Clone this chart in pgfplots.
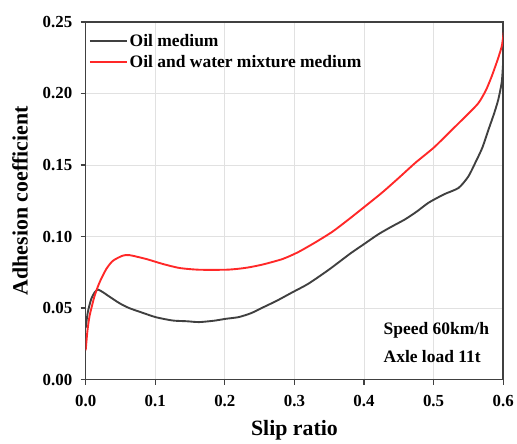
\documentclass[border=0pt]{standalone}
\usepackage{fontspec}
\setmainfont{Liberation Serif}
\usepackage{pgfplots}
\pgfplotsset{compat=1.18}
\definecolor{oilgray}{RGB}{64,64,64}
\definecolor{oilred}{RGB}{255,40,40}
\definecolor{gridgray}{RGB}{225,225,225}
\begin{document}
\begin{tikzpicture}
\begin{axis}[
  scale only axis,
  width=419bp, height=359bp,
  xmin=0, xmax=0.6, ymin=0, ymax=0.25,
  xtick={0,0.1,0.2,0.3,0.4,0.5,0.6},
  ytick={0,0.05,0.10,0.15,0.20,0.25},
  xtick pos=bottom, ytick pos=left,
  tick align=outside,
  major tick length=5bp,
  every tick/.style={line width=1.2pt, color=oilgray},
  axis line style={line width=1.5pt, color=oilgray},
  grid=major,
  major grid style={line width=0.8pt, color=gridgray},
  /pgf/number format/assume math mode=true,
  ticklabel style={font=\fontsize{17}{20}\selectfont\bfseries},
  xticklabel style={yshift=-7bp, /pgf/number format/.cd, fixed, fixed zerofill, precision=1},
  yticklabel style={xshift=-5bp, /pgf/number format/.cd, fixed, fixed zerofill, precision=2},
  scaled ticks=false,
  xlabel={Slip ratio},
  ylabel={Adhesion coefficient},
  label style={font=\fontsize{22}{26}\selectfont\bfseries},
  xlabel style={yshift=-7bp},
  ylabel style={yshift=8bp},
  legend style={draw=none, fill=none, at={(0.005,0.975)}, anchor=north west,
    font=\fontsize{17.6}{21}\selectfont\bfseries, row sep=4bp,
    inner sep=1bp},
  legend cell align=left,
  legend image code/.code={\draw[#1] (0cm,0cm) -- (37bp,0cm);},
]
\addplot[oilgray, line width=1.9pt, smooth, tension=0.4] coordinates {
(0,0.036) (0.003,0.047) (0.008,0.0564) (0.013,0.061) (0.0177,0.0629)
(0.025,0.061) (0.039,0.0564) (0.05,0.053) (0.063,0.0499) (0.08,0.047)
(0.101,0.0436) (0.125,0.0413) (0.145,0.0408) (0.163,0.0402) (0.185,0.0412)
(0.2016,0.0425) (0.22,0.0437) (0.238,0.0465) (0.255,0.0505) (0.275,0.0552)
(0.297,0.061) (0.32,0.067) (0.35,0.077) (0.38,0.088) (0.40,0.0947)
(0.421,0.1017) (0.44,0.107) (0.459,0.112) (0.476,0.1175) (0.493,0.1237)
(0.515,0.1295) (0.536,0.134) (0.55,0.142) (0.56,0.1516) (0.57,0.162)
(0.579,0.1748) (0.587,0.186) (0.593,0.1957) (0.598,0.208) (0.6,0.222)
(0.601,0.232)
};
\addlegendentry{Oil medium}
\addplot[oilred, line width=1.9pt, smooth, tension=0.4] coordinates {
(0,0.0204) (0.0025,0.034) (0.0057,0.0448) (0.0129,0.0587) (0.02,0.068)
(0.0296,0.0773) (0.039,0.083) (0.053,0.0866) (0.063,0.087) (0.087,0.0843)
(0.111,0.0808) (0.135,0.0780) (0.163,0.0768) (0.2016,0.0768) (0.22,0.0775)
(0.235,0.0785) (0.255,0.0805) (0.283,0.0843) (0.305,0.089) (0.33,0.0959)
(0.355,0.1035) (0.378,0.112) (0.40,0.1205) (0.426,0.1307) (0.45,0.141)
(0.474,0.1516) (0.50,0.162) (0.521,0.172) (0.545,0.1835) (0.564,0.193)
(0.575,0.202) (0.5836,0.212) (0.592,0.2235) (0.598,0.233) (0.601,0.243)
};
\addlegendentry{Oil and water mixture medium}
\node[anchor=west, font=\fontsize{17.6}{21}\selectfont\bfseries, inner sep=0pt] at (axis cs:0.428,0.0343) {Speed 60km/h};
\node[anchor=west, font=\fontsize{17.6}{21}\selectfont\bfseries, inner sep=0pt] at (axis cs:0.428,0.0158) {Axle load 11t};
\end{axis}
\path (current axis.south west) ++(-86bp,-63bp);
\path (current axis.north east) ++(12bp,22bp);
\end{tikzpicture}
\end{document}
